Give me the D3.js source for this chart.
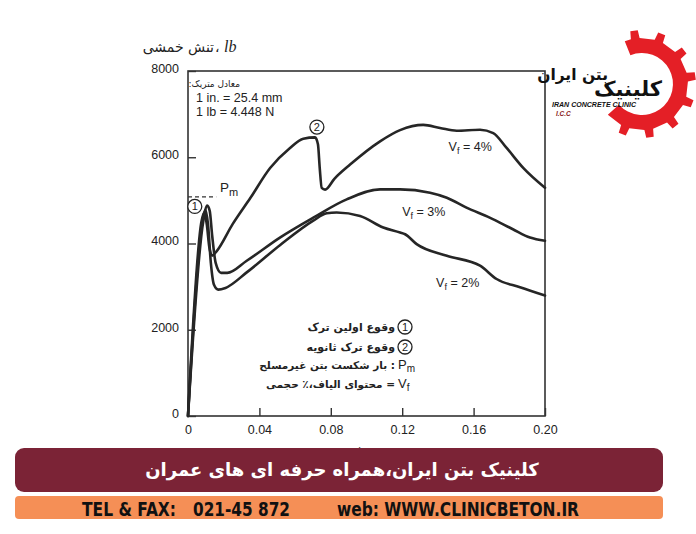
<!DOCTYPE html>
<html><head><meta charset="utf-8">
<script src="https://cdn.jsdelivr.net/npm/d3@7"></script>
<style>
html,body{margin:0;padding:0;background:#fff;}
svg{display:block;}
</style></head>
<body>
<svg id="chart" width="696" height="534"></svg>
<script>
// ---- data ----
const xTicks = [0, 0.04, 0.08, 0.12, 0.16, 0.20];
const xTickLabels = ["0", "0.04", "0.08", "0.12", "0.16", "0.20"];
const yTicks = [0, 2000, 4000, 6000, 8000];
const yTickLabels = ["0", "2000", "4000", "6000", "8000"];

const seriesNames = ["4%", "3%", "2%"];
const vf4 = [[0,0],[0.0075,4500],[0.009,4720],[0.0105,4450],[0.012,3900],[0.0135,3720],[0.016,3820],[0.025,4450],[0.035,5060],[0.046,5750],[0.057,6210],[0.0646,6430],[0.0712,6460],[0.0728,6300],[0.0738,5750],[0.0749,5290],[0.0768,5250],[0.082,5500],[0.0908,5830],[0.1076,6370],[0.1188,6630],[0.1318,6750],[0.1412,6680],[0.1505,6615],[0.1636,6638],[0.171,6560],[0.1785,6215],[0.1878,5754],[0.2,5292]];
const vf3 = [[0,0],[0.0085,4500],[0.0108,4880],[0.0122,4750],[0.0135,4200],[0.0155,3550],[0.0185,3320],[0.022,3320],[0.0329,3600],[0.0515,4138],[0.0702,4600],[0.0889,5023],[0.1076,5255],[0.1188,5255],[0.1356,5177],[0.145,5062],[0.156,4831],[0.169,4600],[0.182,4331],[0.1916,4138],[0.2,4062]];
const vf2 = [[0,0],[0.008,4500],[0.0097,4780],[0.0112,4450],[0.0128,3550],[0.0145,3050],[0.017,2930],[0.021,2970],[0.0329,3330],[0.0515,3960],[0.0702,4530],[0.0777,4700],[0.0833,4720],[0.0964,4640],[0.1094,4370],[0.1188,4254],[0.1216,4215],[0.1281,3985],[0.145,3715],[0.1636,3485],[0.1729,3177],[0.186,2985],[0.2,2792]];
const seriesValues = [vf4, vf3, vf2];
const pmValue = 5080;
const pmExtent = [0, 0.0158];
const crackPoints = [[0.0038, 4860, "1"], [0.0722, 6700, "2"]];
const seriesLabelPos = [[0.146, 6150], [0.12, 4630], [0.139, 3000]];

const metricTitle = "معادل متریک:";
const metricLines = ["1 in. = 25.4 mm", "1 lb = 4.448 N"];
const yTitleFa = "تنش خمشی";
const yTitleSep = "،";
const yTitleUnit = "lb";
const legendCircles = [["1", "وقوع اولین ترک"], ["2", "وقوع ترک ثانویه"]];
const legendSymbols = [["P", "m", ": بار شکست بتن غیرمسلح"], ["V", "f", "= محتوای الیاف،٪ حجمی"]];
const bannerText = "کلینیک بتن ایران،همراه حرفه ای های عمران";
const contactParts = ["TEL & FAX:", "021-45 872", "web: WWW.CLINICBETON.IR"];
const logoWords = ["بتن ایران", "کلینیک"];
const logoSub = ["IRAN CONCRETE CLINIC", "I.C.C"];

// ---- drawing ----
const svg = d3.select("#chart");
const ink = "#262626";
const latin = "'Liberation Sans', Arial, Helvetica, sans-serif";
const fa = "'DejaVu Sans', sans-serif";

const x = d3.scaleLinear().domain([0, 0.2]).range([188, 545]);
const y = d3.scaleLinear().domain([0, 8000]).range([416, 71]);

// right-aligned RTL text helper
function rtl(xr, yb, txt, size, weight, fill) {
  return svg.append("text").attr("x", xr).attr("y", yb)
    .attr("direction", "rtl").attr("text-anchor", "start")
    .attr("font-family", fa).attr("font-size", size)
    .attr("font-weight", weight || "normal").attr("fill", fill || "#222").text(txt);
}

// frame
svg.append("rect").attr("x", x(0)).attr("y", y(8000))
  .attr("width", x(0.2) - x(0)).attr("height", y(0) - y(8000))
  .attr("fill", "none").attr("stroke", "#333").attr("stroke-width", 1.6);

// axes
const yAxis = d3.axisLeft(y).tickValues(yTicks).tickSize(-8).tickPadding(9)
  .tickFormat((d, i) => yTickLabels[i]);
const gy = svg.append("g").attr("transform", `translate(${x(0)},0)`).call(yAxis);
const xAxis = d3.axisBottom(x).tickValues(xTicks).tickSize(-8).tickPadding(9)
  .tickFormat((d, i) => xTickLabels[i]);
const gx = svg.append("g").attr("transform", `translate(0,${y(0)})`).call(xAxis);
[gx, gy].forEach(g => {
  g.select(".domain").remove();
  g.selectAll(".tick line").attr("stroke", "#333").attr("stroke-width", 1.4);
  g.selectAll(".tick text").attr("font-family", latin).attr("font-size", 12.5)
    .attr("fill", "#222");
});
gy.selectAll(".tick text").attr("dy", "0.1em");

// y title
rtl(214, 52, yTitleFa, 14);
svg.append("text").attr("x", 215).attr("y", 52)
  .attr("font-family", fa).attr("font-size", 14).attr("fill", "#222").text(yTitleSep);
svg.append("text").attr("x", 224).attr("y", 52)
  .attr("font-family", "'Liberation Serif', 'DejaVu Serif', serif").attr("font-style", "italic")
  .attr("font-size", 16).attr("fill", "#222").text(yTitleUnit);

// metric note
rtl(240, 87, metricTitle, 9);
metricLines.forEach((t, i) => {
  svg.append("text").attr("x", 196).attr("y", 102 + i * 14)
    .attr("font-family", latin).attr("font-size", 12.5).attr("fill", "#222").text(t);
});

// x title (mostly hidden behind the banner)
svg.append("text").attr("x", 352).attr("y", 457).attr("text-anchor", "middle")
  .attr("font-family", fa).attr("font-size", 13).attr("fill", "#555").text("خیز، in.");

// curves
const line = d3.line().x(d => x(d[0])).y(d => y(d[1])).curve(d3.curveMonotoneX);
seriesValues.forEach(s => {
  svg.append("path").datum(s).attr("d", line)
    .attr("fill", "none").attr("stroke", ink).attr("stroke-width", 2.6)
    .attr("stroke-linejoin", "round").attr("stroke-linecap", "round");
});

// Pm dashed line and label
svg.append("line").attr("x1", x(pmExtent[0])).attr("x2", x(pmExtent[1]))
  .attr("y1", y(pmValue)).attr("y2", y(pmValue))
  .attr("stroke", "#333").attr("stroke-width", 1.3).attr("stroke-dasharray", "4,3");
const pmT = svg.append("text").attr("x", 220).attr("y", 192)
  .attr("font-family", latin).attr("font-size", 13.5).attr("fill", "#222");
pmT.append("tspan").text("P");
pmT.append("tspan").attr("font-size", 11).attr("dy", 4).text("m");

// crack markers
function circled(cx, cy, r, label, fs) {
  svg.append("circle").attr("cx", cx).attr("cy", cy).attr("r", r)
    .attr("fill", "#fff").attr("stroke", "#222").attr("stroke-width", 1.3);
  svg.append("text").attr("x", cx).attr("y", cy + fs * 0.36).attr("text-anchor", "middle")
    .attr("font-family", latin).attr("font-size", fs).attr("fill", "#222").text(label);
}
crackPoints.forEach(p => circled(x(p[0]), y(p[1]), 7, p[2], 11));

// series labels
seriesNames.forEach((n, i) => {
  const t = svg.append("text").attr("x", x(seriesLabelPos[i][0])).attr("y", y(seriesLabelPos[i][1]))
    .attr("font-family", latin).attr("font-size", 12.5).attr("fill", "#222");
  t.append("tspan").text("V");
  t.append("tspan").attr("font-size", 9).attr("dy", 3).text("f");
  t.append("tspan").attr("dy", -3).text(" = " + n);
});

// legend
legendCircles.forEach((d, i) => {
  const cy = 327 + i * 20;
  circled(405, cy, 7, d[0], 11);
  rtl(395, cy + 4, d[1], 11, "bold");
});
legendSymbols.forEach((d, i) => {
  const by = 369 + i * 19;
  const t = svg.append("text").attr("x", 398).attr("y", by)
    .attr("font-family", latin).attr("font-size", 13).attr("fill", "#222");
  t.append("tspan").text(d[0]);
  t.append("tspan").attr("font-size", 10).attr("dy", 3).text(d[1]);
  rtl(395, by, d[2], 10.5, "bold");
});

// logo gear
(function () {
  const cx = 642, cy = 84, rIn = 31, rOut = 46, rTooth = 54;
  const a0 = -22, a1 = 228; // degrees clockwise from top
  const pt = (r, a) => { const t = a * Math.PI / 180; return [cx + r * Math.sin(t), cy - r * Math.cos(t)]; };
  let p = [];
  const step = 30, tw = 11;
  p.push(pt(rOut, a0));
  for (let a = a0 + 8; a + tw <= a1; a += step) {
    p.push(pt(rOut, a)); p.push(pt(rTooth, a + 1.5)); p.push(pt(rTooth, a + tw - 1.5)); p.push(pt(rOut, a + tw));
  }
  p.push(pt(rOut, a1));
  let d = "M" + p.map(q => q.join(",")).join("L");
  const [ix, iy] = pt(rIn, a1);
  d += `L${ix},${iy}`;
  const [sx, sy] = pt(rIn, a0);
  d += `A${rIn},${rIn} 0 1 0 ${sx},${sy}Z`;
  svg.append("path").attr("d", d).attr("fill", "#e41f26");
})();
rtl(608, 80, logoWords[0], 15.5, "bold", "#111");
rtl(662, 96, logoWords[1], 21, "bold", "#111");
svg.append("text").attr("x", 552).attr("y", 107).attr("font-family", latin).attr("font-style", "italic")
  .attr("font-weight", "bold").attr("font-size", 6.5).attr("fill", "#111")
  .attr("textLength", 84).attr("lengthAdjust", "spacingAndGlyphs").text(logoSub[0]);
svg.append("text").attr("x", 556).attr("y", 116).attr("font-family", latin).attr("font-style", "italic")
  .attr("font-weight", "bold").attr("font-size", 6.5).attr("fill", "#8a1a1a").text(logoSub[1]);

// banners
svg.append("rect").attr("x", 15).attr("y", 448).attr("width", 648).attr("height", 44)
  .attr("rx", 9).attr("fill", "#7b2336");
svg.append("text").attr("x", 342).attr("y", 476).attr("text-anchor", "middle").attr("direction", "rtl")
  .attr("font-family", fa).attr("font-size", 18).attr("font-weight", "bold").attr("fill", "#fff").text(bannerText);
svg.append("rect").attr("x", 15).attr("y", 496).attr("width", 648).attr("height", 23)
  .attr("rx", 4).attr("fill", "#f58f56");
const cpos = [[82, 94], [193, 97], [337, 242]];
contactParts.forEach((t, i) => {
  svg.append("text").attr("x", cpos[i][0]).attr("y", 516)
    .attr("font-family", "'Liberation Sans Narrow', 'DejaVu Sans Condensed', 'Liberation Sans', sans-serif")
    .attr("font-weight", "bold").attr("font-size", 20).attr("fill", "#111")
    .attr("textLength", cpos[i][1]).attr("lengthAdjust", "spacingAndGlyphs").text(t);
});
</script>
</body></html>
